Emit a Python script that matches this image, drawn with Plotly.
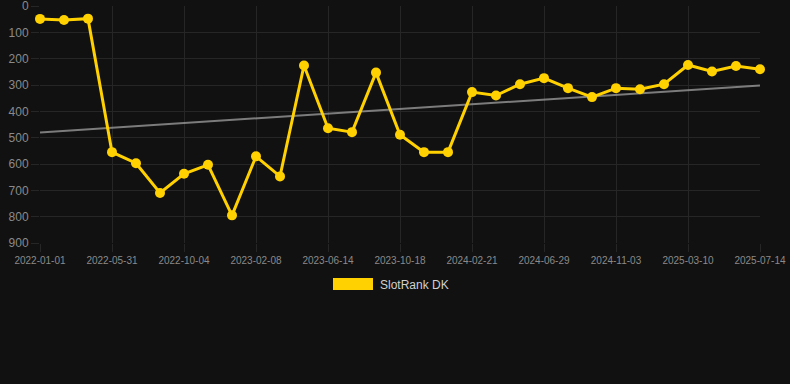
import plotly.graph_objects as go

dates = [
    "2022-01-01", "2022-02-20", "2022-04-10", "2022-05-31", "2022-07-12", "2022-08-23",
    "2022-10-04", "2022-11-15", "2022-12-27", "2023-02-08", "2023-03-22", "2023-05-03",
    "2023-06-14", "2023-07-26", "2023-09-06", "2023-10-18", "2023-11-29", "2024-01-10",
    "2024-02-21", "2024-04-03", "2024-05-16", "2024-06-29", "2024-08-10", "2024-09-22",
    "2024-11-03", "2024-12-15", "2025-01-27", "2025-03-10", "2025-04-21", "2025-06-02",
    "2025-07-14",
]
rank = [49, 53, 48, 555, 597, 710, 637, 603, 795, 571, 647, 226,
        464, 479, 253, 489, 555, 555, 327, 340, 297, 274, 312, 346,
        312, 316, 297, 224, 249, 228, 240]
tick_dates = ["2022-01-01", "2022-05-31", "2022-10-04", "2023-02-08", "2023-06-14",
              "2023-10-18", "2024-02-21", "2024-06-29", "2024-11-03", "2025-03-10",
              "2025-07-14"]
trend_x = [dates[0], dates[-1]]
trend_y = [480, 302]
y_ticks = [0, 100, 200, 300, 400, 500, 600, 700, 800, 900]
series_name = "SlotRank DK"

GOLD = "#FFD100"
GRID = "#262626"

fig = go.Figure()
fig.add_trace(go.Scatter(
    x=trend_x, y=trend_y, mode="lines",
    line=dict(color="rgba(160,160,160,0.75)", width=2),
    hoverinfo="skip", showlegend=False,
))
fig.add_trace(go.Scatter(
    x=dates, y=rank, mode="lines+markers", name=series_name,
    line=dict(color=GOLD, width=3),
    marker=dict(color=GOLD, size=10),
    showlegend=False, cliponaxis=False,
))

# manual legend
fig.add_shape(type="rect", xref="paper", yref="paper",
              x0=(333 - 40) / 720, x1=(373 - 40) / 720,
              y0=(243 - 290) / 237, y1=(243 - 278) / 237,
              fillcolor=GOLD, line=dict(width=0))
fig.add_annotation(xref="paper", yref="paper", x=(378 - 40) / 720, y=(243 - 284.5) / 237,
                   xanchor="left", yanchor="middle", showarrow=False,
                   text=series_name, font=dict(size=12, color="#d0d0d0",
                                                family="Liberation Sans, Arial, sans-serif"))

fig.update_layout(
    width=790, height=384,
    margin=dict(l=40, r=30, t=6, b=141, autoexpand=False),
    paper_bgcolor="#111111", plot_bgcolor="#111111",
    font=dict(family="Liberation Sans, Arial, sans-serif", color="#888888"),
    showlegend=False,
)
fig.update_xaxes(
    type="category", categoryorder="array", categoryarray=dates,
    range=[0, len(dates) - 1],
    tickvals=tick_dates, ticktext=tick_dates,
    tickfont=dict(size=10, color="#8a8a8a"),
    showgrid=True, gridcolor=GRID, gridwidth=1,
    ticks="outside", ticklen=8, tickcolor=GRID,
    zeroline=False, showline=False, tickangle=0,
    ticklabeloverflow="allow", automargin=False,
)
fig.update_yaxes(
    range=[900, 0], tickvals=y_ticks,
    tickfont=dict(size=12, color="#8a8a8a"),
    showgrid=True, gridcolor=GRID, gridwidth=1,
    ticks="outside", ticklen=8, tickcolor=GRID,
    zeroline=False, showline=False,
    ticklabeloverflow="allow", automargin=False,
)

fig.write_html("out.html", config={"displayModeBar": False},
               post_script="document.body.style.margin='0';document.body.style.background='#111111';")
